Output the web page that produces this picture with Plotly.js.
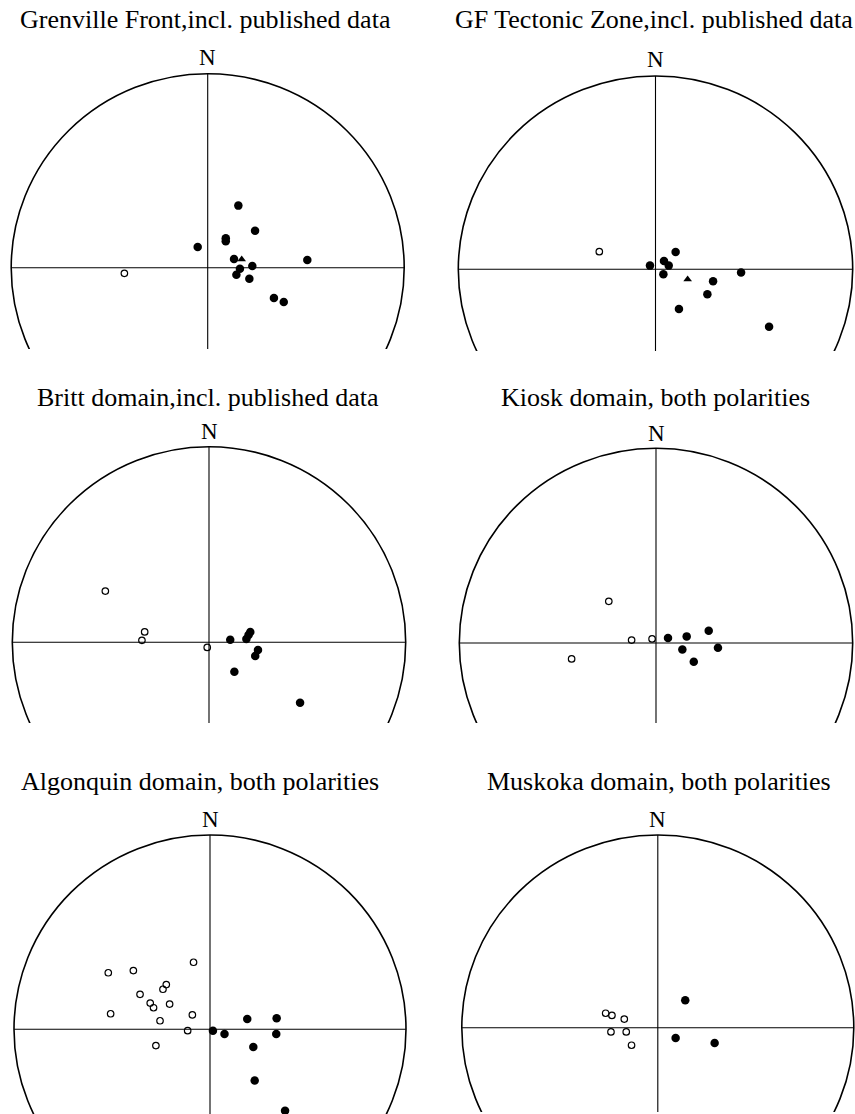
<!DOCTYPE html>
<html>
<head>
<meta charset="utf-8">
<script src="https://cdn.plot.ly/plotly-3.0.1.min.js"></script>
<style>html,body{margin:0;padding:0;background:#fff;}#chart{width:855px;height:1114px;}</style>
</head>
<body>
<div id="chart"></div>
<script>
// ---- Data: projected pole positions (East, North) in units of net radius ----
const titles = [
  "Grenville Front,incl. published data",
  "GF Tectonic Zone,incl. published data",
  "Britt domain,incl. published data",
  "Kiosk domain, both polarities",
  "Algonquin domain, both polarities",
  "Muskoka domain, both polarities"
];
const northLabel = "N";

// Grenville Front
const gfFilledE = [0.156, 0.241, 0.092, 0.092, -0.051, 0.134, 0.507, 0.227, 0.164, 0.146, 0.212, 0.337, 0.387];
const gfFilledN = [0.320, 0.191, 0.152, 0.136, 0.107, 0.045, 0.040, 0.009, -0.005, -0.036, -0.057, -0.156, -0.177];
const gfOpenE = [-0.424];
const gfOpenN = [-0.029];
const gfTriE = [0.173];
const gfTriN = [0.043];

// GF Tectonic Zone
const gftzFilledE = [0.102, 0.043, 0.067, -0.028, 0.040, 0.434, 0.292, 0.263, 0.119, 0.576];
const gftzFilledN = [0.090, 0.043, 0.019, 0.019, -0.026, -0.017, -0.062, -0.129, -0.205, -0.297];
const gftzOpenE = [-0.285];
const gftzOpenN = [0.091];
const gftzTriE = [0.163];
const gftzTriN = [-0.052];

// Britt domain
const brittFilledE = [0.108, 0.210, 0.201, 0.190, 0.249, 0.235, 0.129, 0.463];
const brittFilledN = [0.013, 0.053, 0.037, 0.017, -0.039, -0.070, -0.150, -0.309];
const brittOpenE = [-0.527, -0.327, -0.341, -0.009];
const brittOpenN = [0.262, 0.053, 0.010, -0.026];

// Kiosk domain
const kioskFilledE = [0.061, 0.156, 0.268, 0.134, 0.315, 0.192];
const kioskFilledN = [0.026, 0.034, 0.063, -0.034, -0.024, -0.096];
const kioskOpenE = [-0.240, -0.124, -0.020, -0.429];
const kioskOpenN = [0.214, 0.015, 0.021, -0.082];

// Algonquin domain
const algFilledE = [0.015, 0.074, 0.190, 0.340, 0.338, 0.221, 0.228, 0.383];
const algFilledN = [-0.007, -0.024, 0.053, 0.057, -0.024, -0.091, -0.264, -0.419];
const algOpenE = [-0.084, -0.519, -0.391, -0.223, -0.240, -0.357, -0.305, -0.288, -0.206, -0.507, -0.090, -0.255, -0.114, -0.276];
const algOpenN = [0.345, 0.291, 0.302, 0.230, 0.206, 0.180, 0.135, 0.111, 0.130, 0.080, 0.074, 0.044, -0.007, -0.084];

// Muskoka domain
const muskFilledE = [0.140, 0.091, 0.290];
const muskFilledN = [0.142, -0.053, -0.079];
const muskOpenE = [-0.266, -0.234, -0.171, -0.239, -0.161, -0.134];
const muskOpenN = [0.075, 0.064, 0.045, -0.022, -0.022, -0.091];

// ---- Layout geometry (pixels) ----
const W = 855, H = 1114;
const panels = [
  {cx: 207.7, cy: 267.7, rx: 196.5, ry: 194.0, bot: 349, tx: 205, ty: 20, ny: 58,
   filled: [gfFilledE, gfFilledN], open: [gfOpenE, gfOpenN], tri: [gfTriE, gfTriN]},
  {cx: 655.5, cy: 269.3, rx: 197.2, ry: 193.3, bot: 351, tx: 653.5, ty: 20, ny: 60,
   filled: [gftzFilledE, gftzFilledN], open: [gftzOpenE, gftzOpenN], tri: [gftzTriE, gftzTriN]},
  {cx: 209.0, cy: 642.3, rx: 196.7, ry: 195.6, bot: 723, tx: 207.7, ty: 397, ny: 432,
   filled: [brittFilledE, brittFilledN], open: [brittOpenE, brittOpenN], tri: null},
  {cx: 656.0, cy: 643.0, rx: 196.7, ry: 194.7, bot: 723, tx: 655.8, ty: 397, ny: 434,
   filled: [kioskFilledE, kioskFilledN], open: [kioskOpenE, kioskOpenN], tri: null},
  {cx: 210.0, cy: 1029.3, rx: 196.0, ry: 194.3, bot: 1114, tx: 199.5, ty: 781, ny: 819,
   filled: [algFilledE, algFilledN], open: [algOpenE, algOpenN], tri: null},
  {cx: 657.8, cy: 1027.7, rx: 196.0, ry: 192.7, bot: 1112, tx: 658.8, ty: 781, ny: 819,
   filled: [muskFilledE, muskFilledN], open: [muskOpenE, muskOpenN], tri: null}
];

const serif = "Liberation Serif, Times New Roman, serif";
const traces = [];
const layout = {
  width: W, height: H,
  margin: {l: 0, r: 0, t: 0, b: 0},
  paper_bgcolor: "#fff", plot_bgcolor: "rgba(0,0,0,0)",
  showlegend: false,
  shapes: [], annotations: []
};

panels.forEach((p, i) => {
  const k = i + 1;
  const xa = "x" + (k === 1 ? "" : k), ya = "y" + (k === 1 ? "" : k);
  const xkey = "xaxis" + (k === 1 ? "" : k), ykey = "yaxis" + (k === 1 ? "" : k);
  const x0 = Math.max(0, p.cx - 1.02 * p.rx), x1 = Math.min(W, p.cx + 1.02 * p.rx);
  const yt = p.cy - 1.02 * p.ry, yb = Math.min(H, p.bot);
  const xr = [(x0 - p.cx) / p.rx, (x1 - p.cx) / p.rx];
  const yr = [(p.cy - yb) / p.ry, (p.cy - yt) / p.ry];
  layout[xkey] = {domain: [x0 / W, x1 / W], range: xr, visible: false, fixedrange: true,
                  anchor: ya};
  layout[ykey] = {domain: [1 - yb / H, 1 - yt / H], range: yr, visible: false, fixedrange: true,
                  anchor: xa};
  // net outline and cross
  layout.shapes.push({type: "circle", xref: xa, yref: ya, x0: -1, x1: 1, y0: -1, y1: 1,
                      line: {color: "#000", width: 1.6}});
  layout.shapes.push({type: "line", xref: xa, yref: ya, x0: -1, x1: 1, y0: 0, y1: 0,
                      line: {color: "#000", width: 1.1}});
  layout.shapes.push({type: "line", xref: xa, yref: ya, x0: 0, x1: 0, y0: yr[0], y1: 1,
                      line: {color: "#000", width: 1.1}});
  // open circles
  traces.push({type: "scatter", mode: "markers", xaxis: xa, yaxis: ya,
               x: p.open[0], y: p.open[1], cliponaxis: false, hoverinfo: "skip",
               marker: {symbol: "circle-open", size: 6.5, color: "#000", line: {width: 1.2, color: "#000"}}});
  // filled circles
  traces.push({type: "scatter", mode: "markers", xaxis: xa, yaxis: ya,
               x: p.filled[0], y: p.filled[1], cliponaxis: false, hoverinfo: "skip",
               marker: {symbol: "circle", size: 8.5, color: "#000"}});
  if (p.tri) {
    traces.push({type: "scatter", mode: "markers", xaxis: xa, yaxis: ya,
                 x: p.tri[0], y: p.tri[1], cliponaxis: false, hoverinfo: "skip",
                 marker: {symbol: "triangle-up", size: 7.5, color: "#000"}});
  }
  // titles and north label
  layout.annotations.push({xref: "paper", yref: "paper", x: p.tx / W, y: 1 - p.ty / H,
                           xanchor: "center", yanchor: "middle", showarrow: false,
                           text: titles[i], font: {family: serif, size: 26, color: "#000"}});
  layout.annotations.push({xref: "paper", yref: "paper", x: p.cx / W, y: 1 - p.ny / H,
                           xanchor: "center", yanchor: "middle", showarrow: false,
                           text: northLabel, font: {family: serif, size: 23, color: "#000"}});
});

Plotly.newPlot("chart", traces, layout, {displayModeBar: false, staticPlot: true});
</script>
</body>
</html>
